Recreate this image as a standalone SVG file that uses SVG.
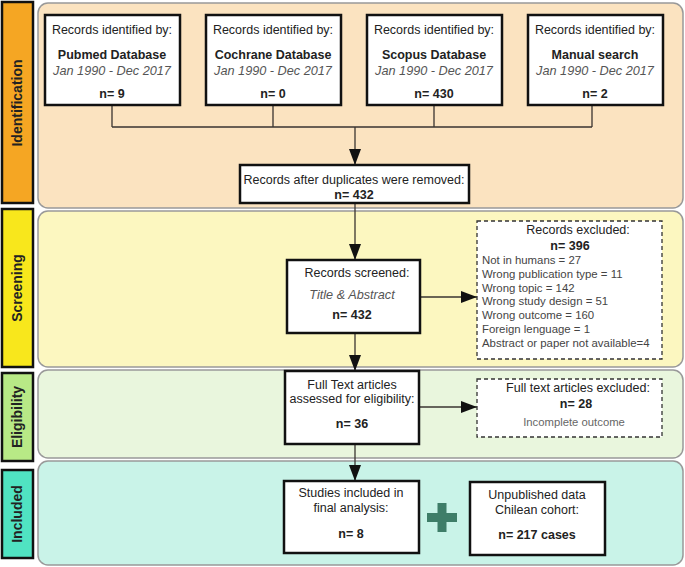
<svg xmlns="http://www.w3.org/2000/svg" width="685" height="567" viewBox="0 0 685 567">
<defs>
<style>
text{font-family:"Liberation Sans",Arial,sans-serif;fill:#222;font-size:12.5px;text-anchor:middle}
.b{font-weight:bold}
.i{font-style:italic;fill:#555;font-size:12.7px}
.sm{font-size:11.4px;text-anchor:start;fill:#444}
.side{font-weight:bold;font-size:14px;fill:#222}
.bar{stroke:#111;stroke-width:2.5}
.panel{stroke:#999;stroke-width:1.5}
.box{fill:#fff;stroke:#111;stroke-width:2.5}
.dbox{fill:#fff;stroke:#333;stroke-width:1.3;stroke-dasharray:4,3}
.ln{stroke:#3a3530;stroke-width:1.3;fill:none}
</style>
<marker id="ahb" viewBox="0 0 16 12" refX="16" refY="6" markerWidth="16" markerHeight="12" markerUnits="userSpaceOnUse" orient="auto">
<path d="M0,0 L16,6 L0,12 z" fill="#111"/>
</marker>
</defs>

<g id="panels">
<rect class="panel" x="38" y="3" width="645" height="205" rx="10" fill="#FBE3C0"/>
<rect class="panel" x="38" y="211" width="645" height="156" rx="10" fill="#FCF7C0"/>
<rect class="panel" x="38" y="370" width="645" height="88" rx="10" fill="#E9F6DD"/>
<rect class="panel" x="38" y="461" width="645" height="104" rx="10" fill="#C9F3E8"/>
</g>

<g id="stage-identification">
<rect class="bar" x="2" y="2" width="31" height="201" fill="#F5A623"/>
<text class="side" transform="translate(22,103) rotate(-90)">Identification</text>
</g>
<g id="stage-screening">
<rect class="bar" x="2" y="209" width="31" height="158" fill="#F8E71C"/>
<text class="side" transform="translate(22,288) rotate(-90)">Screening</text>
</g>
<g id="stage-eligibility">
<rect class="bar" x="2" y="373" width="31" height="88" fill="#B8E986"/>
<text class="side" transform="translate(22,417) rotate(-90)">Eligibility</text>
</g>
<g id="stage-included">
<rect class="bar" x="2" y="470" width="31" height="88" fill="#50E3C2"/>
<text class="side" transform="translate(22,514) rotate(-90)">Included</text>
</g>

<g id="connectors">
<path class="ln" d="M112,105 V127 M273,105 V127 M434,105 V127 M592,105 V127 M112,127 H592"/>
<path class="ln" d="M355,127 V165" marker-end="url(#ahb)"/>
<path class="ln" d="M355,203 V260" marker-end="url(#ahb)"/>
<path class="ln" d="M420,297 H477" marker-end="url(#ahb)"/>
<path class="ln" d="M355,333 V371" marker-end="url(#ahb)"/>
<path class="ln" d="M419,407 H477" marker-end="url(#ahb)"/>
<path class="ln" d="M355,444 V481" marker-end="url(#ahb)"/>
</g>

<g id="pubmed">
<rect class="box" x="45" y="15" width="135" height="90"/>
<text x="112" y="34">Records identified by:</text>
<text class="b" x="112" y="59">Pubmed Database</text>
<text class="i" x="112" y="75">Jan 1990 - Dec 2017</text>
<text class="b" x="112" y="98">n= 9</text>
</g>
<g id="cochrane">
<rect class="box" x="206" y="15" width="135" height="90"/>
<text x="273" y="34">Records identified by:</text>
<text class="b" x="273" y="59">Cochrane Database</text>
<text class="i" x="273" y="75">Jan 1990 - Dec 2017</text>
<text class="b" x="273" y="98">n= 0</text>
</g>
<g id="scopus">
<rect class="box" x="367" y="15" width="135" height="90"/>
<text x="434" y="34">Records identified by:</text>
<text class="b" x="434" y="59">Scopus Database</text>
<text class="i" x="434" y="75">Jan 1990 - Dec 2017</text>
<text class="b" x="434" y="98">n= 430</text>
</g>
<g id="manual">
<rect class="box" x="528" y="15" width="135" height="90"/>
<text x="595" y="34">Records identified by:</text>
<text class="b" x="595" y="59">Manual search</text>
<text class="i" x="595" y="75">Jan 1990 - Dec 2017</text>
<text class="b" x="595" y="98">n= 2</text>
</g>

<g id="duplicates">
<rect class="box" x="240" y="165" width="229" height="38"/>
<text x="354" y="184">Records after duplicates were removed:</text>
<text class="b" x="354" y="199">n= 432</text>
</g>

<g id="screened">
<rect class="box" x="287" y="260" width="133" height="73"/>
<text x="357" y="277">Records screened:</text>
<text class="i" x="352" y="299">Title &amp; Abstract</text>
<text class="b" x="352" y="319">n= 432</text>
</g>

<g id="excluded">
<rect class="dbox" x="477" y="221" width="185" height="138"/>
<text x="578" y="234">Records excluded:</text>
<text class="b" x="570" y="250">n= 396</text>
<text class="sm" x="482" y="264">Not in humans = 27</text>
<text class="sm" x="482" y="277.8">Wrong publication type = 11</text>
<text class="sm" x="482" y="291.6">Wrong topic = 142</text>
<text class="sm" x="482" y="305.4">Wrong study design = 51</text>
<text class="sm" x="482" y="319.2">Wrong outcome = 160</text>
<text class="sm" x="482" y="333">Foreign lenguage = 1</text>
<text class="sm" x="482" y="346.8">Abstract or paper not available=4</text>
</g>

<g id="fulltext">
<rect class="box" x="285" y="371" width="134" height="73"/>
<text x="352" y="389">Full Text articles</text>
<text x="352" y="403">assessed for eligibility:</text>
<text class="b" x="352" y="428">n= 36</text>
</g>

<g id="fulltext-excluded">
<rect class="dbox" x="477" y="379" width="185" height="58"/>
<text x="578" y="392">Full text articles excluded:</text>
<text class="b" x="576" y="408">n= 28</text>
<text x="574" y="426" style="font-size:11.3px;fill:#666">Incomplete outcome</text>
</g>

<g id="included">
<rect class="box" x="284" y="481" width="135" height="72"/>
<text x="351" y="497">Studies included in</text>
<text x="351" y="512">final analysis:</text>
<text class="b" x="351" y="538">n= 8</text>
</g>

<g id="plus">
<path d="M427,517.5 H457 M442,503 V532" stroke="#3E7D68" stroke-width="9"/>
</g>

<g id="unpublished">
<rect class="box" x="470" y="482" width="135" height="73"/>
<text x="537" y="499">Unpublished data</text>
<text x="537" y="514">Chilean cohort:</text>
<text class="b" x="537" y="539">n= 217 cases</text>
</g>
</svg>
